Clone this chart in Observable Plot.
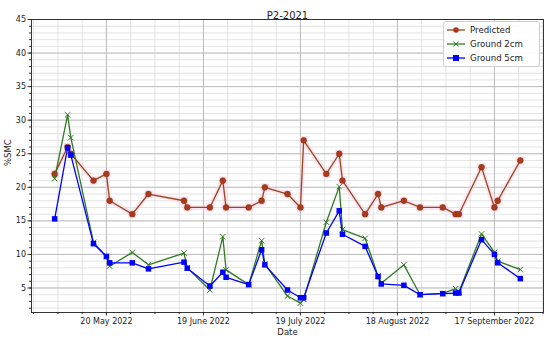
<!DOCTYPE html>
<html>
<head>
<meta charset="utf-8">
<script src="https://cdn.jsdelivr.net/npm/d3@7"></script>
<script src="https://cdn.jsdelivr.net/npm/@observablehq/plot@0.6"></script>
<style>
  html, body { margin: 0; padding: 0; background: #fff; }
  #wrap { position: relative; width: 550px; height: 338px; font-family: "DejaVu Sans", sans-serif; }
  #legend { position: absolute; left: 443px; top: 21px; width: 97px; height: 46px; background: rgba(255,255,255,0.9);
            border: 1px solid #cfcfcf; border-radius: 3px; box-sizing: border-box; font-size: 8.6px; color: #222; }
  .row { position: absolute; left: 3px; height: 12px; display: flex; align-items: center; }
  .row svg { margin-right: 5px; }
</style>
</head>
<body>
<div id="wrap"></div>
<script>
const title = "P2-2021";
const xLabel = "Date";
const yLabel = "%SMC";
const seriesNames = ["Predicted", "Ground 2cm", "Ground 5cm"];

const dates = ["2022-05-04","2022-05-08","2022-05-09","2022-05-16","2022-05-20","2022-05-21","2022-05-28","2022-06-02",
  "2022-06-13","2022-06-14","2022-06-21","2022-06-25","2022-06-26","2022-07-03","2022-07-07","2022-07-08","2022-07-15",
  "2022-07-19","2022-07-20","2022-07-27","2022-07-31","2022-08-01","2022-08-08","2022-08-12","2022-08-13","2022-08-20",
  "2022-08-25","2022-09-01","2022-09-05","2022-09-06","2022-09-13","2022-09-17","2022-09-18","2022-09-25"];

const predicted = [22,26,25,21,22,18,16,19,18,17,17,21,17,17,18,20,19,17,27,22,25,21,16,19,17,18,17,17,16,16,23,17,18,24];
const ground2cm = [21.3,30.8,27.4,11.8,9.7,8.25,10.3,8.45,10.2,8.0,4.7,12.65,7.7,5.5,12.05,8.6,3.8,2.75,3.3,14.8,20.1,13.7,12.4,6.8,5.7,8.45,4.0,4.2,4.9,4.4,13.05,10.3,9.0,7.75];
const ground5cm = [15.3,25.9,24.8,11.6,9.7,8.75,8.75,7.85,8.85,7.95,5.3,7.35,6.6,5.5,10.7,8.45,4.7,3.55,3.55,13.2,16.5,13.0,11.2,6.7,5.6,5.4,4.0,4.15,4.25,4.25,12.2,10.0,8.75,6.4];

const xTickDates = ["2022-05-20","2022-06-19","2022-07-19","2022-08-18","2022-09-17"];
const yTicks = [5,10,15,20,25,30,35,40,45];

const colors = {pred: "#b0381a", predLine: "#8e4a1c", g2: "#2f7a1f", g5: "#0000ff", halo: "#ffcfe6"};

const parse = d => new Date(d + "T00:00:00Z");
const rows = dates.map((d, i) => ({date: parse(d), pred: predicted[i], g2: ground2cm[i], g5: ground5cm[i]}));

const xDomain = [new Date("2022-04-26T20:00:00Z"), new Date("2022-10-02T04:00:00Z")];
const majorX = xTickDates.map(parse);
const minorX = [];
for (let k = -3; k <= 18; k++) minorX.push(new Date(majorX[0].getTime() + k * 7.5 * 864e5));
const minorXIn = minorX.filter(d => d >= xDomain[0] && d <= xDomain[1]);
const minorY = d3.range(2, 46, 1);

const chart = Plot.plot({
  width: 550, height: 338,
  marginLeft: 31, marginRight: 7, marginTop: 19, marginBottom: 26,
  style: {fontFamily: "DejaVu Sans, sans-serif", fontSize: "8px", color: "#222", background: "#fff"},
  x: {type: "utc", domain: xDomain},
  y: {domain: [1.35, 45]},
  marks: [
    Plot.gridY(minorY, {stroke: "#dcdcdc", strokeOpacity: 1, strokeWidth: 0.8}),
    Plot.gridX(minorXIn, {stroke: "#dcdcdc", strokeOpacity: 1, strokeWidth: 0.8}),
    Plot.gridY(yTicks, {stroke: "#b9b9b9", strokeOpacity: 1, strokeWidth: 0.9}),
    Plot.gridX(majorX, {stroke: "#b9b9b9", strokeOpacity: 1, strokeWidth: 0.9}),
    Plot.axisY(minorY, {tickSize: 2, tickFormat: () => "", label: null, stroke: "#333"}),
    Plot.axisX(minorXIn, {tickSize: 2, tickFormat: () => "", label: null, stroke: "#333"}),
    Plot.axisY(yTicks, {tickSize: 3.5, tickPadding: 2, label: null, stroke: "#333"}),
    Plot.axisX(majorX, {tickSize: 3.5, tickPadding: 2, tickFormat: d3.utcFormat("%-d %B %Y"), label: null, stroke: "#333"}),
    // halo behind predicted
    Plot.line(rows, {x: "date", y: "pred", stroke: colors.halo, strokeWidth: 5, strokeOpacity: 0.55}),
    Plot.dot(rows, {x: "date", y: "pred", symbol: "square", r: 4.5, fill: colors.halo, fillOpacity: 0.7}),
    Plot.line(rows, {x: "date", y: "pred", stroke: colors.predLine, strokeWidth: 1.3}),
    Plot.dot(rows, {x: "date", y: "pred", r: 2.9, fill: colors.pred, stroke: "#7a3a12", strokeWidth: 0.6}),
    Plot.line(rows, {x: "date", y: "g2", stroke: colors.g2, strokeWidth: 1.3}),
    Plot.dot(rows, {x: "date", y: "g2", symbol: "times", r: 2.6, stroke: colors.g2, strokeWidth: 1}),
    Plot.line(rows, {x: "date", y: "g5", stroke: colors.g5, strokeWidth: 1.3}),
    Plot.dot(rows, {x: "date", y: "g5", symbol: "square", r: 3.1, fill: colors.g5}),
    Plot.frame({stroke: "#222", strokeWidth: 0.9}),
    Plot.text([title], {frameAnchor: "top", dy: -8, fontSize: 10, fill: "#222"}),
    Plot.text([xLabel], {frameAnchor: "bottom", dy: 22, fontSize: 8.5, fill: "#222"}),
    Plot.text([yLabel], {frameAnchor: "left", dx: -23, rotate: -90, fontSize: 8.5, fill: "#222"})
  ]
});
const wrap = document.getElementById("wrap");
wrap.appendChild(chart);

// legend
const legend = document.createElement("div");
legend.id = "legend";
const sym = [
  `<circle cx="9" cy="5" r="2.8" fill="${colors.pred}"/>`,
  `<path d="M6.4 2.4L11.6 7.6M11.6 2.4L6.4 7.6" stroke="${colors.g2}" stroke-width="1"/>`,
  `<rect x="6" y="2" width="6" height="6" fill="${colors.g5}"/>`
];
const strokes = [colors.predLine, colors.g2, colors.g5];
seriesNames.forEach((name, i) => {
  const row = document.createElement("div");
  row.className = "row";
  row.style.top = (2 + i * 14) + "px";
  row.innerHTML = `<svg width="18" height="10"><line x1="0" x2="18" y1="5" y2="5" stroke="${strokes[i]}" stroke-width="1.3"/>${sym[i]}</svg><span>${name}</span>`;
  legend.appendChild(row);
});
wrap.appendChild(legend);
</script>
</body>
</html>
